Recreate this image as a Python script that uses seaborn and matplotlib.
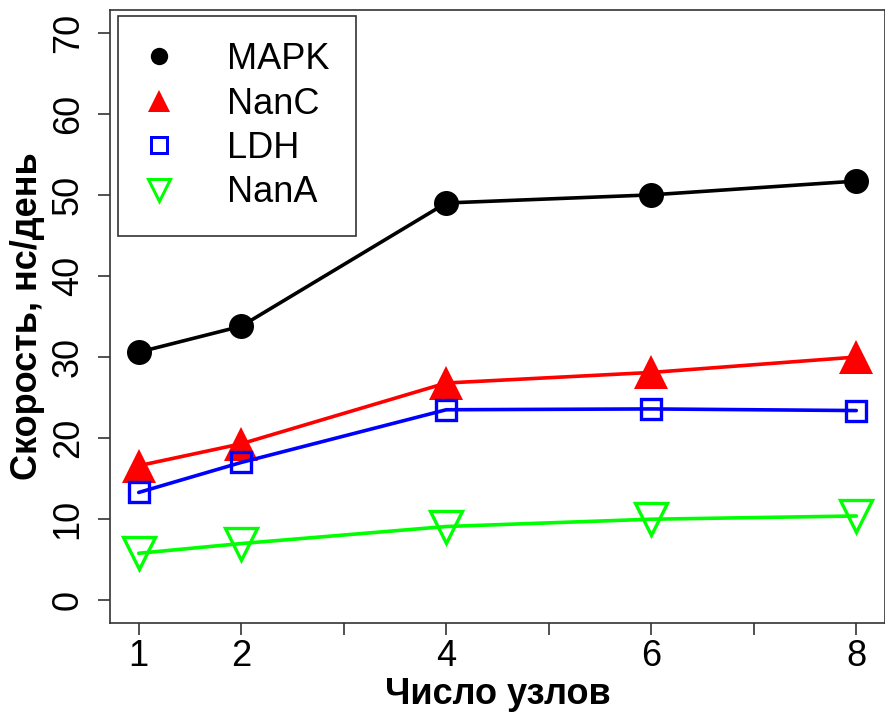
import pandas as pd
import matplotlib
matplotlib.use("Agg")
import matplotlib.pyplot as plt
import seaborn as sns
from matplotlib.lines import Line2D

# data
nodes = [1, 2, 4, 6, 8]
mapk = [30.6, 33.8, 49.0, 50.0, 51.7]
nanc = [16.6, 19.3, 26.8, 28.1, 30.0]
ldh = [13.3, 17.0, 23.5, 23.6, 23.4]
nana = [5.8, 7.0, 9.1, 10.0, 10.4]

series_names = ["MAPK", "NanC", "LDH", "NanA"]
x_ticks = [1, 2, 3, 4, 5, 6, 7, 8]
x_tick_labels = ["1", "2", "", "4", "", "6", "", "8"]
y_ticks = [0, 10, 20, 30, 40, 50, 60, 70]

sns.set_theme(style="white")
plt.rcParams['font.family'] = ['Liberation Sans', 'DejaVu Sans']
plt.rcParams['text.color'] = 'black'
plt.rcParams['axes.labelcolor'] = 'black'

styles = {
    "MAPK": dict(color="black", marker="o", ms=18, mfc="black", mew=0, leg_ms=12.5),
    "NanC": dict(color="red", marker="^", ms=24, mfc="red", mew=0, leg_ms=16.5),
    "LDH": dict(color="blue", marker="s", ms=15, mfc="none", mew=2.4, leg_ms=11),
    "NanA": dict(color="#00FF00", marker="v", ms=23, mfc="none", mew=2.4, leg_ms=16.5),
}
values = {"MAPK": mapk, "NanC": nanc, "LDH": ldh, "NanA": nana}

fig = plt.figure(figsize=(8.85, 7.12), dpi=100)
ax = fig.add_axes([110 / 885, 89 / 712, 775 / 885, 613 / 712])

for name in series_names:
    st = styles[name]
    df = pd.DataFrame({"x": nodes, "y": values[name]})
    sns.lineplot(data=df, x="x", y="y", ax=ax, color=st["color"], linewidth=2.6,
                 marker=st["marker"], markersize=st["ms"], markerfacecolor=st["mfc"],
                 markeredgecolor=st["color"], markeredgewidth=st["mew"])

ax.set_xlim(0.72, 8.28)
ax.set_ylim(-2.8, 72.8)
ax.set_xticks(x_ticks)
ax.set_xticklabels(x_tick_labels)
ax.set_yticks(y_ticks)
ax.set_yticklabels([str(v) for v in y_ticks], rotation=90, va="center")

for sp in ax.spines.values():
    sp.set_color("#333333")
    sp.set_linewidth(1.2)
ax.tick_params(axis="both", direction="out", length=8.5, width=1.2, color="#333333",
               labelsize=26, labelcolor="black", left=True, bottom=True)
ax.tick_params(axis="y", pad=9)
ax.tick_params(axis="x", pad=3)

ax.set_xlabel("Число узлов", fontsize=26, fontweight="bold", labelpad=2)
ax.set_ylabel("Скорость, нс/день", fontsize=26, fontweight="bold", labelpad=4)

handles = []
for name in series_names:
    st = styles[name]
    handles.append(Line2D([], [], linestyle="none", marker=st["marker"], markersize=st["leg_ms"],
                          markerfacecolor=st["mfc"], markeredgecolor=st["color"],
                          markeredgewidth=st["mew"] * 0.9))
leg = ax.legend(handles, series_names, loc="upper left", bbox_to_anchor=(0.0103, 0.990),
                borderaxespad=0, fancybox=False, framealpha=1, edgecolor="#333333",
                fontsize=26, handlelength=0.85, handletextpad=1.45, borderpad=0.72,
                labelspacing=0.26)
leg.get_frame().set_linewidth(1.2)
for t in leg.get_texts():
    t.set_color("black")

fig.savefig("out.png", dpi=100)
